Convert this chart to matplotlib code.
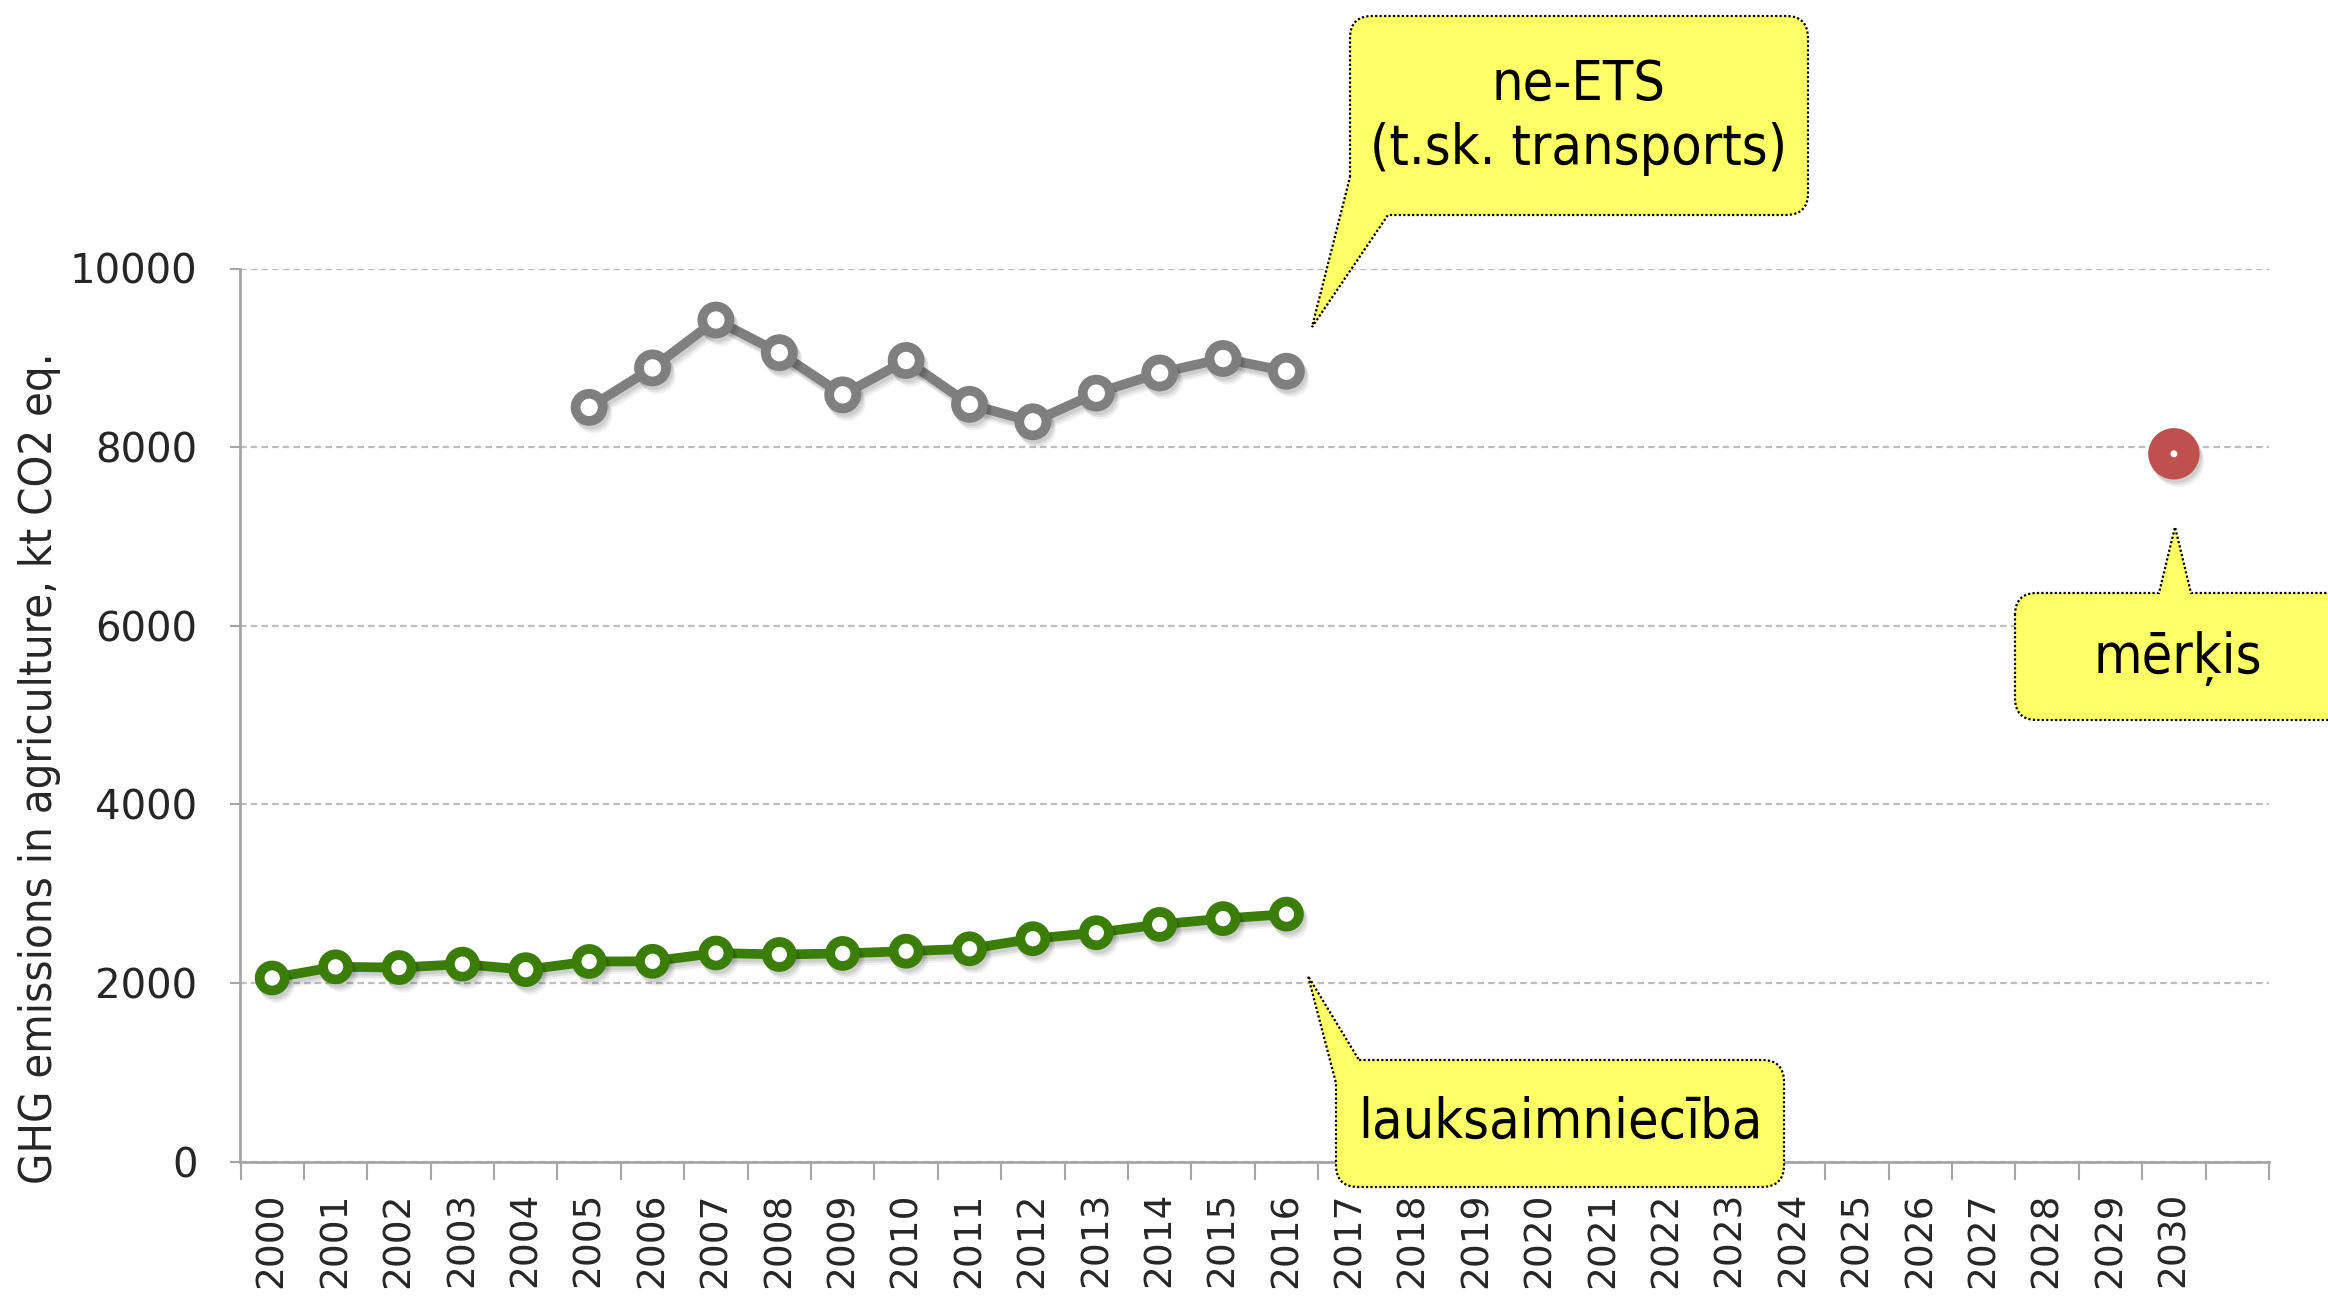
import matplotlib.pyplot as plt
import matplotlib.patheffects as pe
from matplotlib.path import Path
from matplotlib.patches import PathPatch
from matplotlib.transforms import Affine2D
import numpy as np

# Years on the category axis (one empty slot after 2030)
years = list(range(2000, 2031))

# ne-ETS (incl. transport), kt CO2 eq., 2005-2016
ets_years = list(range(2005, 2017))
ets_values = [8445, 8887, 9423, 9057, 8585, 8970, 8479, 8283, 8604, 8830, 8992, 8849]

# Agriculture, kt CO2 eq., 2000-2016
agri_years = list(range(2000, 2017))
agri_values = [2055, 2180, 2172, 2210, 2148, 2240, 2242, 2335, 2318, 2330, 2355,
               2382, 2495, 2562, 2655, 2720, 2770]

# 2030 target
target_year = [2030]
target_value = [7925]

W, H = 2328, 1298
fig = plt.figure(figsize=(W / 100, H / 100), dpi=100)
ax = fig.add_axes([240.5 / W, 1 - 1161.5 / H, (2269 - 240.5) / W, (1161.5 - 268.5) / H])

pos = {y: i for i, y in enumerate(years)}
shadow = [pe.SimpleLineShadow(offset=(1.5, -2.5), shadow_color='black', alpha=0.08),
          pe.SimpleLineShadow(offset=(2.5, -4), shadow_color='black', alpha=0.07),
          pe.SimpleLineShadow(offset=(3.5, -5.5), shadow_color='black', alpha=0.05),
          pe.Normal()]

ax.plot([pos[y] for y in ets_years], ets_values, color='#7F7F7F', lw=7,
        marker='o', ms=19.5, mfc='white', mec='#7F7F7F', mew=7,
        solid_joinstyle='round', path_effects=shadow, zorder=3)
ax.plot([pos[y] for y in agri_years], agri_values, color='#3A7D07', lw=7,
        marker='o', ms=18, mfc='white', mec='#3A7D07', mew=7,
        solid_joinstyle='round', path_effects=shadow, zorder=3)
ax.plot([pos[y] for y in target_year], target_value, linestyle='none',
        marker='o', ms=21, mfc='white', mec='#C0504D', mew=16,
        path_effects=shadow, zorder=3)

ax.set_xlim(-0.5, len(years) + 0.5)
ax.set_ylim(0, 10000)
ax.set_yticks(np.arange(0, 10001, 2000))
ax.set_xticks(np.arange(-0.5, len(years) + 1, 1))
ax.set_xticklabels([])
ax.set_xticks(np.arange(len(years)), minor=True)
ax.set_xticklabels([str(y) for y in years], minor=True, rotation=90, fontsize=27)
ax.tick_params(axis='x', which='major', direction='out', length=13, width=1.5, color='#A6A6A6')
ax.tick_params(axis='x', which='minor', length=0, pad=22)
ax.tick_params(axis='y', direction='out', length=7, width=1.5, color='#A6A6A6',
               labelsize=29, pad=24)
for lab in ax.get_yticklabels() + ax.get_xticklabels(minor=True):
    lab.set_color('#262626')

ax.grid(axis='y', color='#BFBFBF', linestyle=(0, (3, 1.8)), lw=1.6)
ax.set_axisbelow(True)
for s in ['top', 'right']:
    ax.spines[s].set_visible(False)
for s in ['left', 'bottom']:
    ax.spines[s].set_color('#A6A6A6')
    ax.spines[s].set_linewidth(2)

narrow = ['Liberation Sans Narrow', 'DejaVu Sans']
fig.text(40 / W, 1 - 768 / H, 'GHG emissions in agriculture, kt CO2 eq.', rotation=90,
         ha='center', va='center', fontsize=32.5, color='#262626',
         family=narrow, fontstretch='condensed')

# callouts, drawn in figure pixels measured from the top-left corner
px = Affine2D().scale(1 / W, -1 / H).translate(0, 1) + fig.transFigure


def rounded(points, radii):
    verts, codes = [], []
    n = len(points)
    for i in range(n):
        p = np.array(points[i], float)
        r = radii[i]
        if r == 0:
            verts.append(p)
            codes.append(Path.MOVETO if i == 0 else Path.LINETO)
            continue
        a = np.array(points[i - 1], float)
        b = np.array(points[(i + 1) % n], float)
        p1 = p + (a - p) / np.linalg.norm(a - p) * r
        p2 = p + (b - p) / np.linalg.norm(b - p) * r
        verts += [p1, p, p2]
        codes += [Path.MOVETO if i == 0 else Path.LINETO, Path.CURVE3, Path.CURVE3]
    verts.append(verts[0])
    codes.append(Path.CLOSEPOLY)
    return Path(verts, codes)


def callout(points, radii, text, tx, ty):
    patch = PathPatch(rounded(points, radii), transform=px, facecolor='#FFFF66',
                      edgecolor='black', lw=1.6, linestyle=(0, (1, 1)), zorder=5)
    fig.add_artist(patch)
    fig.text(tx / W, 1 - ty / H, text, ha='center', va='center', fontsize=40,
             linespacing=1.25, zorder=6, family=narrow, fontstretch='condensed')


callout([(1350, 177), (1350, 16), (1808, 16), (1808, 215), (1388, 215), (1312, 327)],
        [0, 22, 22, 22, 0, 0], 'ne-ETS\n(t.sk. transports)', 1579, 117)
callout([(1359, 1060), (1784, 1060), (1784, 1187), (1336, 1187), (1336, 1083), (1308, 976)],
        [0, 22, 22, 22, 0, 0], 'lauksaimniecība', 1560, 1123)
callout([(2015, 593), (2159, 593), (2175, 527), (2191, 593), (2360, 593), (2360, 720), (2015, 720)],
        [22, 0, 0, 0, 22, 22, 22], 'mērķis', 2178, 658)

fig.savefig('out.png', dpi=100)
